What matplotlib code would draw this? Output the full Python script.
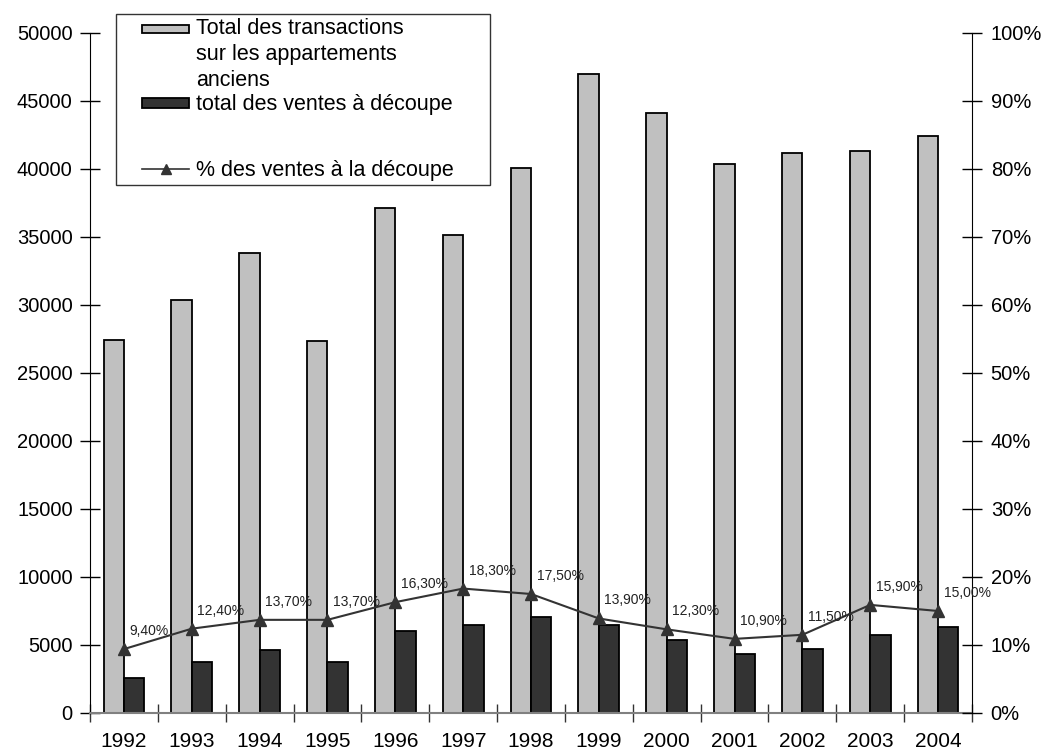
import numpy as np
import matplotlib.pyplot as plt
from matplotlib.patches import Patch, Rectangle
from matplotlib.lines import Line2D
from matplotlib.legend_handler import HandlerBase

plt.rcParams['font.family'] = ['Liberation Sans', 'DejaVu Sans']

years = ['1992', '1993', '1994', '1995', '1996', '1997', '1998',
         '1999', '2000', '2001', '2002', '2003', '2004']
total_transactions = [27450, 30400, 33850, 27350, 37150, 35150, 40100,
                      46950, 44100, 40350, 41150, 41300, 42450]
ventes_decoupe = [2600, 3750, 4600, 3750, 6050, 6450, 7050,
                  6450, 5400, 4350, 4700, 5750, 6300]
pct_decoupe = [9.4, 12.4, 13.7, 13.7, 16.3, 18.3, 17.5,
               13.9, 12.3, 10.9, 11.5, 15.9, 15.0]


class ShiftedHandler(HandlerBase):
    # legend key drawn on the right part of the handle box, moved up by `shift` points
    def __init__(self, shift=0.0, keylen=34.0, keyh=6.0):
        super().__init__()
        self.shift = shift
        self.keylen = keylen
        self.keyh = keyh

    def create_artists(self, legend, orig_handle, xdescent, ydescent,
                       width, height, fontsize, trans):
        x0 = width - self.keylen - xdescent
        y = height / 2 - ydescent + self.shift
        if isinstance(orig_handle, Patch):
            r = Rectangle((x0, y - self.keyh / 2), self.keylen, self.keyh,
                          facecolor=orig_handle.get_facecolor(),
                          edgecolor=orig_handle.get_edgecolor(),
                          linewidth=orig_handle.get_linewidth(), transform=trans)
            return [r]
        ln = Line2D([x0, x0 + self.keylen], [y, y], color=orig_handle.get_color(),
                    linewidth=orig_handle.get_linewidth(), transform=trans)
        mk = Line2D([x0 + self.keylen / 2], [y], marker='^', markersize=7,
                    color=orig_handle.get_color(), linestyle='none', transform=trans)
        return [ln, mk]


def main():
    fig = plt.figure(figsize=(10.48, 7.54), dpi=100)
    ax = fig.add_axes([90 / 1048, 1 - 713 / 754, 882 / 1048, 680 / 754])
    ax2 = ax.twinx()

    x = np.arange(len(years))
    w = 0.3
    ax.bar(x - w / 2, total_transactions, width=w, color='#c0c0c0',
           edgecolor='black', linewidth=1.3, zorder=2)
    ax.bar(x + w / 2, ventes_decoupe, width=w, color='#333333',
           edgecolor='black', linewidth=1.3, zorder=2)

    ax2.plot(x, pct_decoupe, color='#333333', linewidth=1.5, marker='^',
             markersize=8, markerfacecolor='#333333', zorder=3)
    for xi, p in zip(x, pct_decoupe):
        ax2.annotate(f"{p:.2f}%".replace('.', ','), (xi, p),
                     xytext=(4, 13), textcoords='offset points',
                     ha='left', va='center', fontsize=10, color='#222222')

    ax.set_xlim(-0.5, len(years) - 0.5)
    ax.set_ylim(0, 50000)
    ax2.set_ylim(0, 100)

    ax.set_yticks(np.arange(0, 50001, 5000))
    ax2.set_yticks(np.arange(0, 101, 10))
    ax2.set_yticklabels([f"{v}%" for v in range(0, 101, 10)])

    ax.set_xticks(x)
    ax.set_xticklabels(years)
    ax.set_xticks(np.arange(-0.5, len(years)), minor=True)
    ax.tick_params(axis='x', which='major', length=0, labelsize=15, pad=14)
    ax.tick_params(axis='x', which='minor', direction='inout', length=13,
                   width=1, color='#333333')
    ax.tick_params(axis='y', direction='inout', length=15, width=1,
                   labelsize=14.5, pad=5)
    ax2.tick_params(axis='y', direction='inout', length=15, width=1,
                    labelsize=14.5, pad=6)

    for a in (ax, ax2):
        a.spines['top'].set_visible(False)
    ax2.spines['left'].set_visible(False)
    ax2.spines['bottom'].set_visible(False)
    ax.spines['right'].set_visible(False)
    ax.spines['bottom'].set_color('#808080')
    ax.spines['bottom'].set_linewidth(1.5)

    handles = [
        Patch(facecolor='#c0c0c0', edgecolor='black', linewidth=1.3),
        Patch(facecolor='#333333', edgecolor='black', linewidth=1.3),
        Line2D([], [], color='#333333', linewidth=1.2),
    ]
    labels = [
        "Total des transactions\nsur les appartements\nanciens",
        "total des ventes à découpe\n",
        "% des ventes à la découpe",
    ]
    fs = 15.5
    ls1, ls2 = 1.3, 2.3
    handler_map = {
        handles[0]: ShiftedHandler(shift=0.94 * fs * ls1),
        handles[1]: ShiftedHandler(shift=0.94 * fs * ls2 / 2, keyh=7.5),
        handles[2]: ShiftedHandler(),
    }
    leg = ax2.legend(handles, labels, loc='upper left',
                     bbox_to_anchor=(116 / 1048, 1 - 190 / 754, 374 / 1048, 176 / 754),
                     bbox_transform=fig.transFigure, mode='expand', fontsize=fs,
                     frameon=True, fancybox=False, edgecolor='black',
                     borderpad=0.2, labelspacing=0.15, handlelength=3.2,
                     handletextpad=0.33, borderaxespad=0, handler_map=handler_map)
    leg.get_frame().set_linewidth(1.0)
    txts = leg.get_texts()
    txts[0].set_linespacing(ls1)
    txts[1].set_linespacing(ls2)

    fig.savefig('out.png', dpi=100)


if __name__ == "__main__":
    main()
